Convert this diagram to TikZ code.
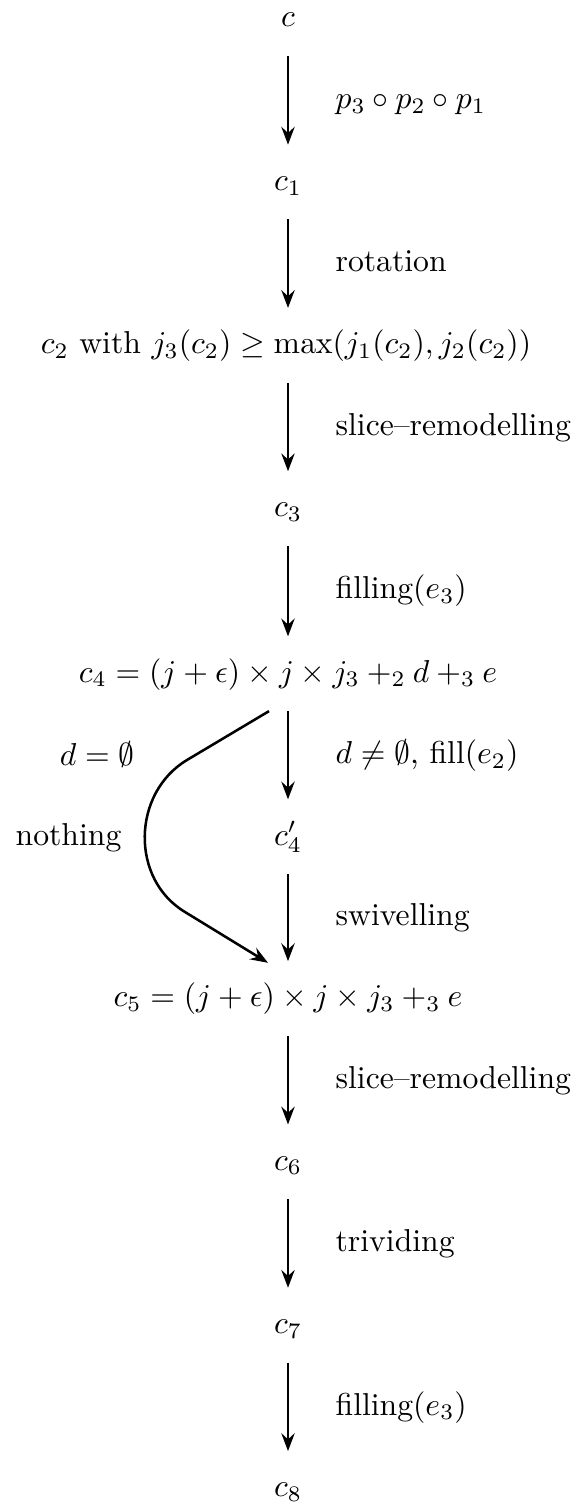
\documentclass[tikz,border=0pt]{standalone}
\usetikzlibrary{arrows.meta,calc}
\begin{document}
\begin{tikzpicture}[x=0.3155pt,y=-0.3155pt,
  obj/.style={inner sep=0pt,text height=8pt,text depth=3pt,anchor=base},
  lab/.style={inner sep=0pt,anchor=base west},
  llab/.style={inner sep=0pt,anchor=base east},
  tip/.style={-{Stealth[length=5.6pt,width=4.2pt,inset=1.9pt]}},
  arr/.style={line width=0.8pt,tip,shorten <=6pt,shorten >=6.2pt},
  carr/.style={line width=0.8pt,tip}]
\path[use as bounding box] (0,0) rectangle (574,1503);
\node[obj] (c0) at (288,27) {$c$};
\node[obj] (c1) at (288,190.3) {$c_1$};
\node[obj] (c2) at (286,353.6) {$c_2$ with $j_3(c_2)\geq\max(j_1(c_2),j_2(c_2))$};
\node[obj] (c3) at (288,516.9) {$c_3$};
\node[obj] (c4) at (288,682) {$c_4=(j+\epsilon)\times j\times j_3+_2 d+_3 e$};
\node[obj] (c4p) at (288,845) {$c'_4$};
\node[obj] (c5) at (288,1006.8) {$c_5=(j+\epsilon)\times j\times j_3+_3 e$};
\node[obj] (c6) at (288,1170.1) {$c_6$};
\node[obj] (c7) at (288,1333.4) {$c_7$};
\node[obj] (c8) at (288,1496.7) {$c_8$};
\draw[arr] (c0.south) -- (c1.north);
\draw[arr] (c1.south) -- (c1.south |- c2.north);
\draw[arr] (c2.south -| c1.south) -- (c3.north);
\draw[arr] (c3.south) -- (c4.north);
\draw[arr] (c4.south) -- (c4p.north);
\draw[arr] (c4p.south) -- (c5.north);
\draw[arr] (c5.south) -- (c6.north);
\draw[arr] (c6.south) -- (c7.north);
\draw[arr] (c7.south) -- (c8.north);
\draw[carr] ($(c4.south)+(-19,19)$) -- (187,760) .. controls (132,793) and (130,879) .. (185,912) -- ($(c5.north)+(-20,-18)$);
\node[lab] (l1) at (335,108.6) {$p_3\circ p_2\circ p_1$};
\node[lab] (l2) at (335,271.9) {rotation};
\node[lab] (l3) at (335,435.2) {slice--remodelling};
\node[lab] (l4) at (335,598.5) {filling$(e_3)$};
\node[lab] (l5) at (335,763.5) {$d\neq\emptyset$, fill$(e_2)$};
\node[lab] (l6) at (335,925.1) {swivelling};
\node[lab] (l7) at (335,1088.4) {slice--remodelling};
\node[lab] (l8) at (335,1251.7) {trividing};
\node[lab] (l9) at (335,1415.0) {filling$(e_3)$};
\node[llab] (ld) at (135,765) {$d=\emptyset$};
\node[llab] (ln) at (122,845) {nothing};
\end{tikzpicture}
\end{document}
